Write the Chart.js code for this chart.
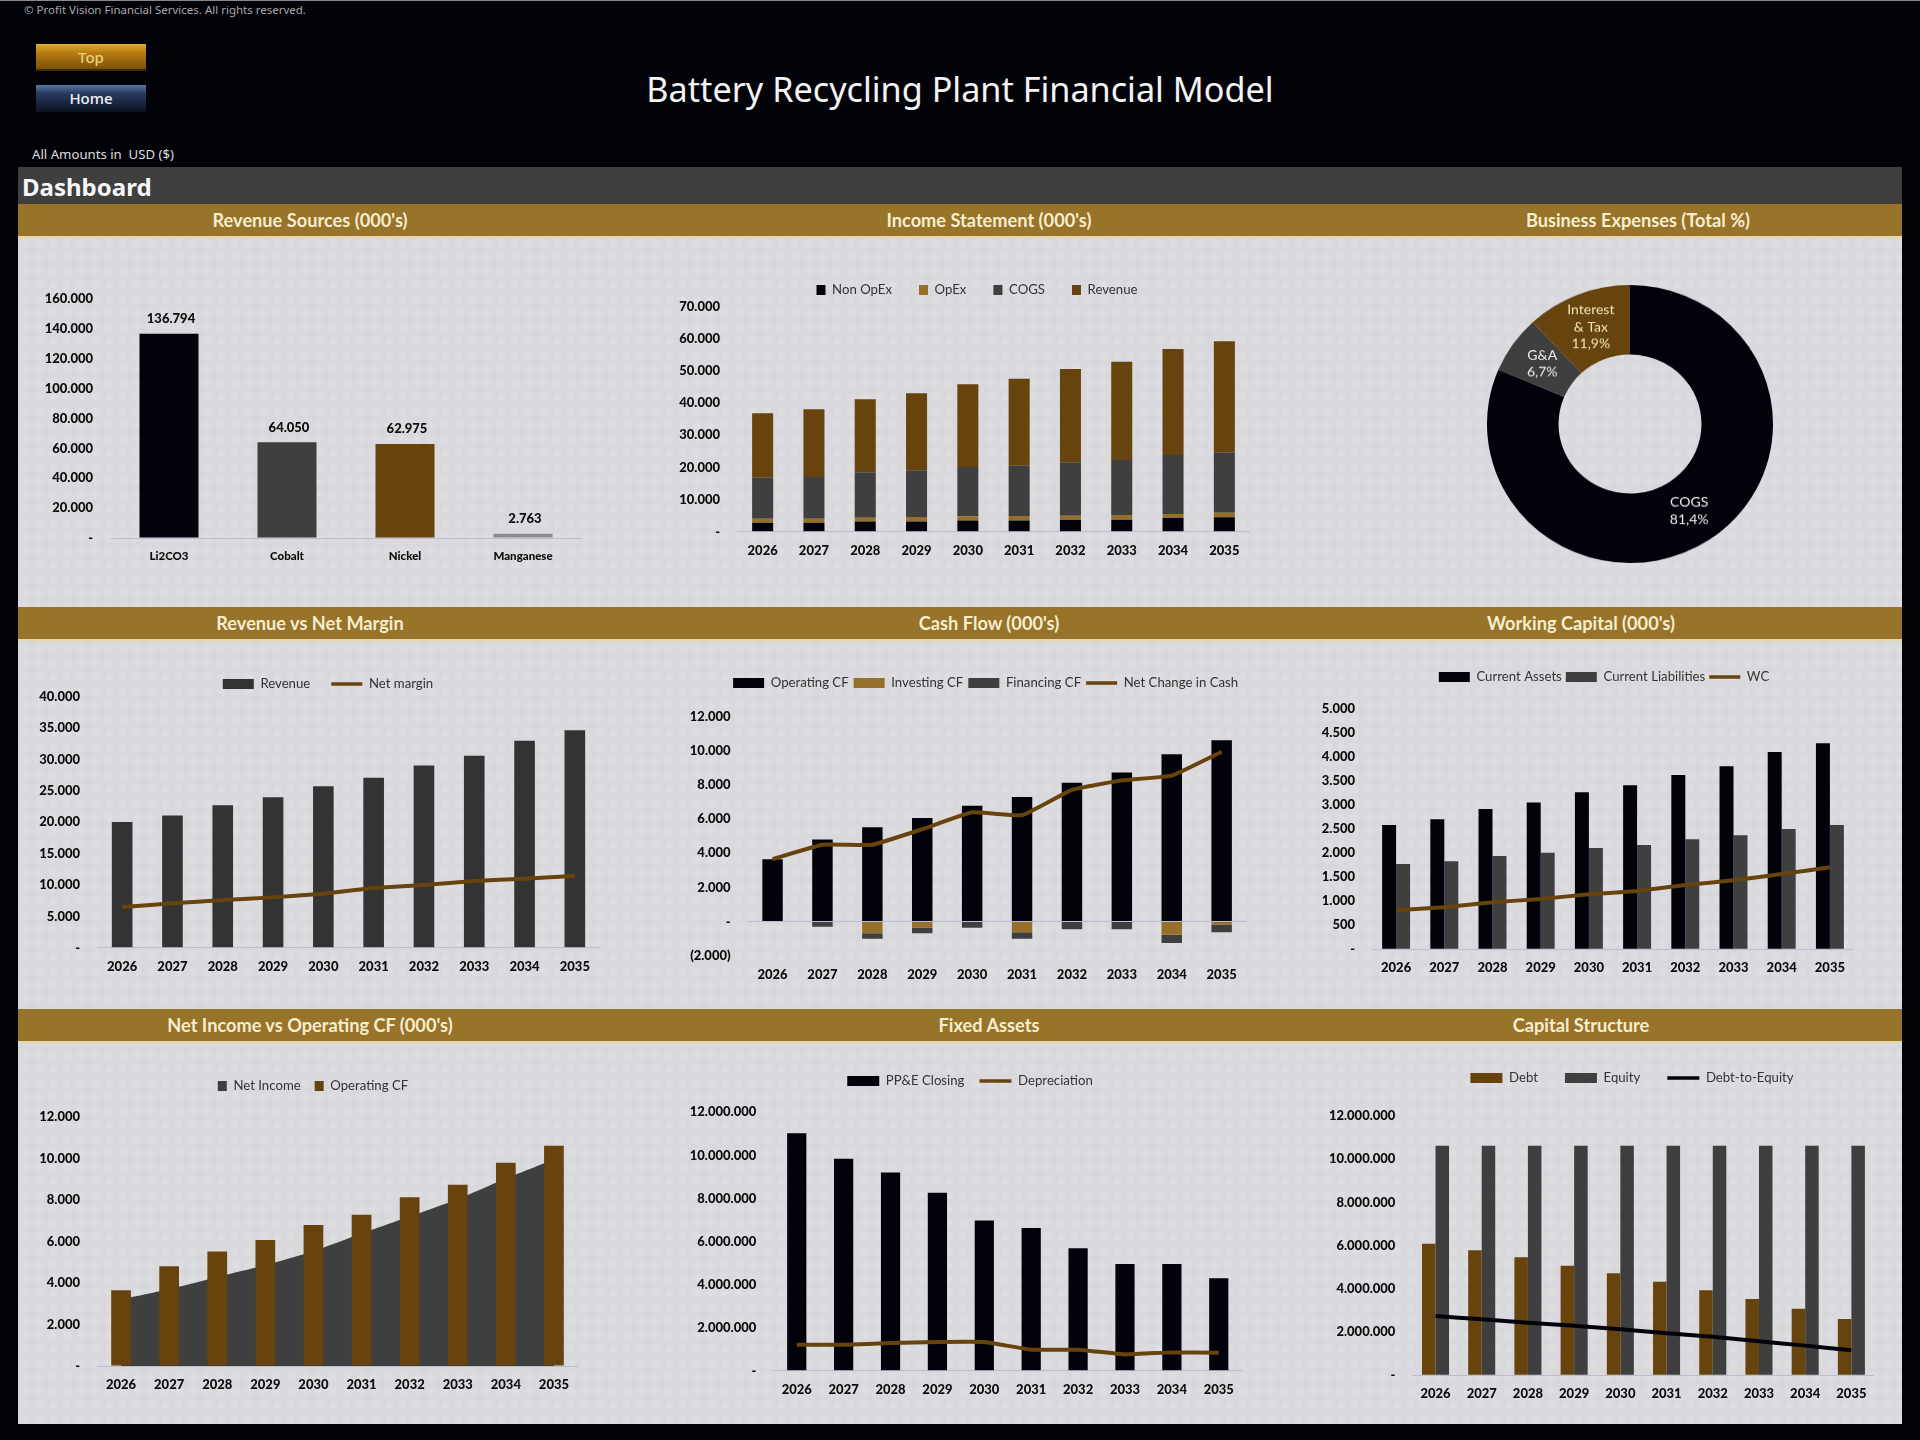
<!DOCTYPE html>
<html>
<head>
<meta charset="utf-8">
<title>Battery Recycling Plant Financial Model</title>
<script src="https://cdn.jsdelivr.net/npm/chart.js@4/dist/chart.umd.min.js"></script>
<style>
  html, body { margin: 0; background: #000; }
  #sheet { position: relative; width: 1920px; height: 1440px; background: #020308; overflow: hidden; font-family: 'Lato', sans-serif; }
  #sheet > * { position: absolute; }
  #sheet canvas { display: block; }
  .panel { left: 18px; width: 1884px; top: 236px; height: 1188px; background-color: #d9d9dd;
    background-image: radial-gradient(circle, rgba(255,255,255,.13) 25%, transparent 60%); background-size: 14px 14px; }
  .band { left: 18px; width: 1884px; height: 32px; background: #98732a; border-bottom: 2px solid #e6d8a6; }
  .head { color: #f6eecf; font-weight: 700; font-size: 18.2px; line-height: 32px; transform: translateX(-50%); white-space: nowrap; }
  .btn { left: 36px; width: 110px; height: 27px; text-align: center; font-family: 'Noto Sans', sans-serif; font-size: 15px; font-weight: 500; line-height: 27px; box-sizing: border-box; }
</style>
</head>
<body>
<div id="sheet">
  <div style="left:0;top:0;width:1920px;height:1px;background:#888"></div>
  <div style="left:24px;top:2px;color:#a8a8a8;font:11.5px 'Noto Sans',sans-serif;line-height:15px">© Profit Vision Financial Services. All rights reserved.</div>
  <div class="btn" style="top:44px;color:#e9d27a;background:linear-gradient(180deg,#d8b030 0%,#b87c10 35%,#7a5208 100%);border-bottom:2px solid #3c2a08">Top</div>
  <div class="btn" style="top:85px;color:#f2f2f2;background:linear-gradient(180deg,#5a78a8 0%,#2a3c62 30%,#0c1220 100%)">Home</div>
  <div style="left:0;width:1920px;top:67px;text-align:center;color:#f4f4f4;font:34.2px 'Noto Sans',sans-serif;line-height:44px">Battery Recycling Plant Financial Model</div>
  <div style="left:32px;top:146px;color:#dcdcdc;font:13.2px 'Noto Sans',sans-serif;line-height:16px">All Amounts in&nbsp; USD ($)</div>
  <div style="left:18px;width:1884px;top:167px;height:37px;background:#3f3f3f"></div>
  <div style="left:22px;top:167px;color:#f8f8f8;font:700 24px 'Noto Sans',sans-serif;line-height:40px">Dashboard</div>
  <div class="panel"></div>
  <div class="band" style="top:204px"></div>
  <div class="band" style="top:607px"></div>
  <div class="band" style="top:1009px"></div>
  <div class="head" style="left:310px;top:204px">Revenue Sources (000's)</div>
  <div class="head" style="left:989px;top:204px">Income Statement (000's)</div>
  <div class="head" style="left:1638px;top:204px">Business Expenses (Total %)</div>
  <div class="head" style="left:310px;top:607px">Revenue vs Net Margin</div>
  <div class="head" style="left:989px;top:607px">Cash Flow (000's)</div>
  <div class="head" style="left:1581px;top:607px">Working Capital (000's)</div>
  <div class="head" style="left:310px;top:1009px">Net Income vs Operating CF (000's)</div>
  <div class="head" style="left:989px;top:1009px">Fixed Assets</div>
  <div class="head" style="left:1581px;top:1009px">Capital Structure</div>
</div>
<script>
// values
const years = ['2026', '2027', '2028', '2029', '2030', '2031', '2032', '2033', '2034', '2035'];

const sourceNames = ['Li2CO3', 'Cobalt', 'Nickel', 'Manganese'];
const sourceValues = [136794, 64050, 62975, 2763];

const nonOpex = [2800, 2800, 3200, 3200, 3500, 3500, 3700, 3700, 4250, 4460];
const opex = [1250, 1250, 1150, 1360, 1270, 1380, 1280, 1490, 1250, 1450];
const cogs = [12750, 12970, 14110, 14530, 15350, 15660, 16600, 17110, 18360, 18680];
const revenue = [20030, 21060, 22720, 23960, 25730, 27070, 29040, 30600, 32990, 34640];

const expenseNames = ['COGS', 'G&A', 'Interest & Tax'];
const expenseShares = [81.4, 6.7, 11.9];

const netMargin = [6480, 7070, 7600, 8020, 8610, 9510, 9990, 10630, 11000, 11420];

const operatingCf = [3650, 4810, 5520, 6070, 6790, 7290, 8130, 8730, 9800, 10620];
const investingCf = [0, 0, -680, -370, 0, -620, 0, 0, -780, -175];
const financingCf = [0, -310, -330, -310, -370, -390, -450, -450, -470, -450];
const netChange = [3660, 4500, 4500, 5410, 6400, 6230, 7710, 8270, 8550, 9950];

const currentAssets = [2590, 2708, 2923, 3056, 3271, 3417, 3632, 3812, 4111, 4292];
const currentLiabilities = [1778, 1833, 1944, 2014, 2111, 2174, 2292, 2375, 2507, 2590];
const workingCapital = [812, 875, 979, 1049, 1146, 1215, 1340, 1437, 1569, 1708];

const netIncome = [3217, 3700, 4295, 4858, 5533, 6386, 7206, 8042, 9040, 9957];

const ppeClosing = [11022000, 9845000, 9210000, 8266000, 6981000, 6625000, 5681000, 4954000, 4954000, 4288000];
const depreciation = [1207000, 1207000, 1285000, 1331000, 1331000, 975000, 975000, 758000, 851000, 836000];

const debt = [6093000, 5784000, 5460000, 5075000, 4720000, 4334000, 3933000, 3532000, 3085000, 2607000];
const equity = [10627000, 10627000, 10627000, 10627000, 10627000, 10627000, 10627000, 10627000, 10627000, 10627000];
const debtToEquity = [2745000, 2591000, 2437000, 2298000, 2128000, 1943000, 1789000, 1573000, 1373000, 1157000];

const BLACK = '#02030a', GREY = '#3f3f3f', BROWN = '#67430e', GOLD = '#96702a', AXIS = '#b9bdd2';

Chart.defaults.font.family = 'Lato';
Chart.defaults.animation = false;
Chart.defaults.responsive = false;
Chart.defaults.devicePixelRatio = 1;

// moves the legend to where the sheet has it, without touching the plot area
Chart.register({
  id: 'placeLegend',
  afterLayout(chart, args, opts) {
    const lg = chart.legend;
    if (!lg || !opts.x) return;
    const half = (lg.right - lg.left) / 2;
    lg.left = opts.x - half;
    lg.right = opts.x + half;
    lg.top = opts.y - lg.options.labels.padding - lg.options.labels.font.size / 2;
  }
});

// value labels over the revenue source bars
const barValues = {
  id: 'barValues',
  afterDatasetsDraw(chart) {
    const ctx = chart.ctx;
    ctx.save();
    ctx.font = '900 13px Lato';
    ctx.fillStyle = '#0a0a0a';
    ctx.textAlign = 'center';
    ctx.textBaseline = 'middle';
    chart.getDatasetMeta(0).data.forEach((bar, i) => {
      ctx.fillText(sourceValues[i].toLocaleString('de-DE'), bar.x + 2, bar.y - 15);
    });
    ctx.restore();
  }
};

// name and share inside each doughnut slice
const sliceLabels = {
  id: 'sliceLabels',
  afterDatasetsDraw(chart) {
    const ctx = chart.ctx;
    ctx.save();
    ctx.font = '14px Lato';
    ctx.textAlign = 'center';
    ctx.textBaseline = 'middle';
    chart.getDatasetMeta(0).data.forEach((arc, i) => {
      const p = arc.tooltipPosition();
      const lines = expenseNames[i].replace(' & ', '\n& ').split('\n');
      lines.push(expenseShares[i].toFixed(1).replace('.', ',') + '%');
      ctx.fillStyle = i === 2 ? '#f3e6b8' : '#eeeeee';
      lines.forEach((t, n) => ctx.fillText(t, p.x, p.y + (n - (lines.length - 1) / 2) * 17.3));
    });
    ctx.restore();
  }
};

const yLabel = v => v === 0 ? '-' : v < 0 ? '(' + Math.abs(v).toLocaleString('de-DE') + ')' : v.toLocaleString('de-DE');

function bars(label, data, color, extra) {
  return Object.assign({ type: 'bar', label, data, backgroundColor: color, borderWidth: 0, order: 2 }, extra);
}
function line(label, data, color) {
  return { type: 'line', label, data, borderColor: color, backgroundColor: color, borderWidth: 4,
    pointRadius: 0, tension: 0.1, order: 1, stack: 'line' };
}

function place(canvas, box) {
  canvas.width = box.right - box.left;
  canvas.height = box.bottom - box.top;
  canvas.style.left = box.left + 'px';
  canvas.style.top = box.top + 'px';
  document.getElementById('sheet').appendChild(canvas);
}

function drawChart(s) {
  const canvas = document.createElement('canvas');
  place(canvas, s.cell);
  const pad = { left: 0, top: 40, right: s.cell.right - s.plot.right, bottom: 0 };
  const chart = new Chart(canvas, {
    type: 'bar',
    data: { labels: s.labels || years, datasets: s.datasets },
    plugins: s.plugins || [],
    options: {
      layout: { padding: pad },
      barPercentage: s.barPct || 0.41,
      categoryPercentage: s.catPct || 1,
      plugins: {
        tooltip: { enabled: false },
        placeLegend: s.legend ? { x: s.legend.x - s.cell.left, y: s.legend.y - s.cell.top } : {},
        legend: {
          display: !!s.legend,
          labels: {
            font: { size: 13.2 },
            color: '#333',
            usePointStyle: true,
            pointStyleWidth: s.legend ? s.legend.box : 10,
            boxHeight: 10,
            padding: s.legend ? s.legend.gap : 10,
            generateLabels: c => c.data.datasets.map((d, i) => {
              const isLine = d.type === 'line' && !d.fill;
              return { text: d.label, fillStyle: d.backgroundColor, strokeStyle: d.borderColor,
                lineWidth: isLine ? 3.5 : 0, pointStyle: isLine ? 'line' : 'rect', datasetIndex: i, fontColor: '#333' };
            })
          }
        }
      },
      scales: {
        x: {
          stacked: !!s.stacked,
          offset: true,
          grid: { display: false },
          border: { display: false },
          ticks: { color: '#0a0a0a', font: { size: s.xFont || 13, weight: '900' }, padding: 3, maxRotation: 0, autoSkip: false },
          afterFit: sc => { sc.height = s.cell.bottom - s.plot.bottom; }
        },
        y: {
          stacked: !!s.stacked,
          min: s.min || 0,
          max: s.max,
          grid: { drawTicks: false, color: c => c.tick.value === 0 ? AXIS : 'transparent' },
          border: { display: false },
          ticks: { stepSize: s.step, color: '#0a0a0a', font: { size: 13, weight: '900' }, padding: 17, callback: yLabel },
          afterFit: sc => { sc.width = s.plot.left - s.cell.left; }
        }
      }
    }
  });
  // nudge the padding until the plot area sits on the reference's axes
  for (let i = 0; i < 2; i++) {
    const a = chart.chartArea;
    pad.left += s.plot.left - s.cell.left - a.left;
    pad.top += s.plot.top - s.cell.top - a.top;
    pad.right += a.right - (s.plot.right - s.cell.left);
    pad.bottom += a.bottom - (s.plot.bottom - s.cell.top);
    chart.options.layout.padding = pad;
    chart.update('none');
  }
  return chart;
}

const COL1 = { left: 18, right: 650 }, COL2 = { left: 650, right: 1290 }, COL3 = { left: 1290, right: 1902 };
const ROW1 = { top: 238, bottom: 607 }, ROW2 = { top: 641, bottom: 1009 }, ROW3 = { top: 1044, bottom: 1424 };
const cell = (c, r) => Object.assign({}, c, r);

drawChart({
  cell: cell(COL1, ROW1),
  plot: { left: 110, right: 582, top: 299, bottom: 538 },
  labels: sourceNames,
  xFont: 11.5,
  barPct: 0.5,
  max: 160000, step: 20000,
  plugins: [barValues],
  datasets: [bars('Revenue', sourceValues, [BLACK, GREY, BROWN, '#8c8c8c'])]
});

drawChart({
  cell: cell(COL2, ROW1),
  plot: { left: 737, right: 1250, top: 306.7, bottom: 531.7 },
  legend: { x: 977, y: 290, box: 9, gap: 27 },
  stacked: true,
  max: 70000, step: 10000,
  datasets: [
    bars('Non OpEx', nonOpex, BLACK),
    bars('OpEx', opex, GOLD),
    bars('COGS', cogs, GREY),
    bars('Revenue', revenue, BROWN)
  ]
});

const expenseCanvas = document.createElement('canvas');
place(expenseCanvas, { left: 1487, right: 1773, top: 285, bottom: 571 });
new Chart(expenseCanvas, {
  type: 'doughnut',
  data: { labels: expenseNames, datasets: [{ data: expenseShares, backgroundColor: [BLACK, GREY, BROWN], borderWidth: 0 }] },
  plugins: [sliceLabels],
  options: { cutout: '50%', plugins: { legend: { display: false }, tooltip: { enabled: false } } }
});
// the reference's ring is slightly squashed
expenseCanvas.style.height = '278px';

drawChart({
  cell: cell(COL1, ROW2),
  plot: { left: 97, right: 600, top: 696.7, bottom: 947.7 },
  legend: { x: 328, y: 684, box: 31, gap: 21 },
  max: 40000, step: 5000,
  datasets: [bars('Revenue', revenue, '#333333'), line('Net margin', netMargin, BROWN)]
});

drawChart({
  cell: cell(COL2, ROW2),
  plot: { left: 747.6, right: 1246.6, top: 716.7, bottom: 955.7 },
  legend: { x: 985.6, y: 683, box: 31, gap: 5 },
  stacked: true,
  min: -2000, max: 12000, step: 2000,
  datasets: [
    bars('Operating CF', operatingCf, BLACK),
    bars('Investing CF', investingCf, GOLD),
    bars('Financing CF', financingCf, GREY),
    line('Net Change in Cash', netChange, BROWN)
  ]
});

drawChart({
  cell: cell(COL3, ROW2),
  plot: { left: 1372, right: 1854, top: 709.3, bottom: 949.3 },
  legend: { x: 1604, y: 677, box: 31, gap: 4 },
  barPct: 1, catPct: 0.58,
  max: 5000, step: 500,
  datasets: [
    bars('Current Assets', currentAssets, BLACK),
    bars('Current Liabilities', currentLiabilities, GREY),
    line('WC', workingCapital, BROWN)
  ]
});

drawChart({
  cell: cell(COL1, ROW3),
  plot: { left: 97, right: 578, top: 1117, bottom: 1366 },
  legend: { x: 313, y: 1086, box: 9, gap: 14 },
  max: 12000, step: 2000,
  datasets: [
    { type: 'line', label: 'Net Income', data: netIncome, fill: 'origin', backgroundColor: GREY, borderColor: GREY,
      borderWidth: 0, pointRadius: 0, tension: 0.1, order: 3 },
    bars('Operating CF', operatingCf, BROWN)
  ]
});

drawChart({
  cell: cell(COL2, ROW3),
  plot: { left: 773.3, right: 1242.2, top: 1112.3, bottom: 1370.7 },
  legend: { x: 970, y: 1081, box: 32, gap: 15 },
  max: 12000000, step: 2000000,
  datasets: [bars('PP&E Closing', ppeClosing, BLACK), line('Depreciation', depreciation, BROWN)]
});

drawChart({
  cell: cell(COL3, ROW3),
  plot: { left: 1412.4, right: 1874.5, top: 1116, bottom: 1375.3 },
  legend: { x: 1632, y: 1078, box: 32, gap: 27 },
  barPct: 1, catPct: 0.585,
  max: 12000000, step: 2000000,
  datasets: [
    bars('Debt', debt, BROWN),
    bars('Equity', equity, GREY),
    line('Debt-to-Equity', debtToEquity, BLACK)
  ]
});
</script>
</body>
</html>
